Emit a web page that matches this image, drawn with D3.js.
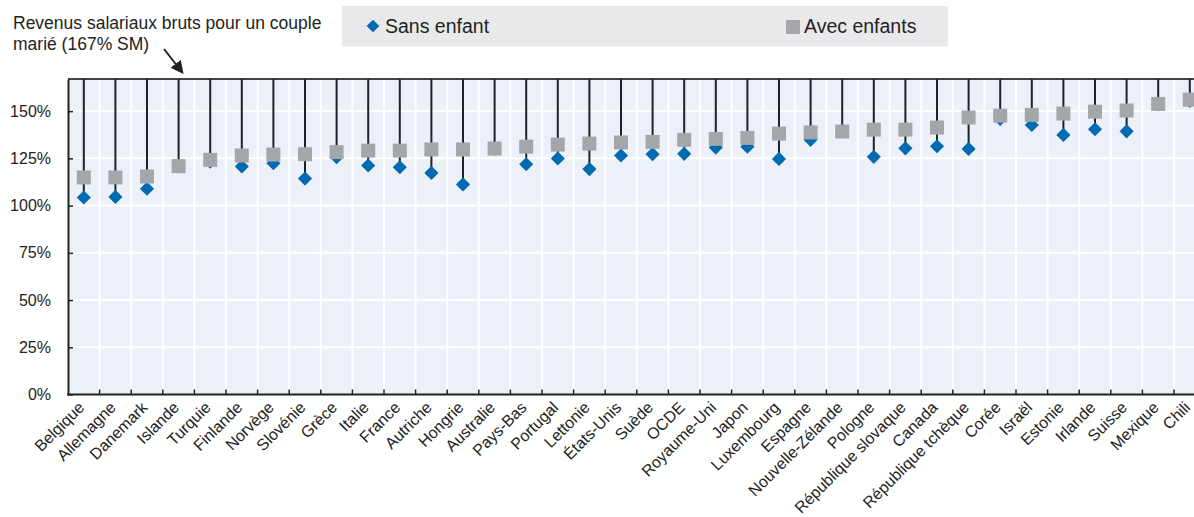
<!DOCTYPE html>
<html>
<head>
<meta charset="utf-8">
<script src="https://cdn.jsdelivr.net/npm/d3@7"></script>
<style>
  body { margin: 0; background: #fff; }
  svg { display: block; font-family: "Liberation Sans", Arial, sans-serif; }
</style>
</head>
<body>
<script>
'use strict';

// data (% of gross earnings)
const countries = ["Belgique", "Allemagne", "Danemark", "Islande", "Turquie", "Finlande", "Norvège",
  "Slovénie", "Grèce", "Italie", "France", "Autriche", "Hongrie", "Australie", "Pays-Bas", "Portugal",
  "Lettonie", "États-Unis", "Suède", "OCDE", "Royaume-Uni", "Japon", "Luxembourg", "Espagne",
  "Nouvelle-Zélande", "Pologne", "République slovaque", "Canada", "République tchèque", "Corée",
  "Israël", "Estonie", "Irlande", "Suisse", "Mexique", "Chili"];
const sansEnfant = [104.3, 104.6, 108.9, 120.7, 123.3, 120.7, 122.4, 114.3, 125.6, 121.2, 120.3, 117.3,
  111.2, 130.0, 121.9, 124.9, 119.3, 126.5, 127.2, 127.4, 130.7, 131.2, 124.7, 134.8, 139.9, 125.8,
  130.3, 131.4, 130.0, 145.8, 142.7, 137.4, 140.4, 139.3, 153.5, 155.4];
const avecEnfants = [114.9, 114.9, 115.4, 120.9, 124.2, 126.5, 127.0, 127.2, 128.3, 129.1, 129.1, 129.7,
  129.7, 130.2, 131.2, 132.3, 132.8, 133.4, 133.7, 134.8, 135.3, 135.8, 138.1, 138.7, 139.2, 140.2,
  140.2, 141.3, 146.6, 147.6, 148.0, 148.7, 149.7, 150.3, 153.8, 156.1];
const grossLevel = 167;              // gross earnings of the couple (167% SM)
const yTicks = [0, 25, 50, 75, 100, 125, 150];
const seriesNames = ["Sans enfant", "Avec enfants"];

(function() {
  const width = 1194, height = 517;
  const blue = "#006BB0", grey = "#A5A6A9";

  const svg = d3.select("body").append("svg")
    .attr("width", width)
    .attr("height", height);

  const plotLeft = 68, plotTop = 79, plotBottom = 394.5;
  const step = 31.6;

  const x = d3.scaleBand()
    .domain(countries)
    .range([plotLeft, plotLeft + step * countries.length])
    .padding(0);

  const y = d3.scaleLinear()
    .domain([0, grossLevel])
    .range([plotBottom, plotTop]);

  const cx = d => x(d) + x.bandwidth() / 2;

  // plot background
  svg.append("rect")
    .attr("x", plotLeft)
    .attr("y", plotTop)
    .attr("width", x.range()[1] - plotLeft)
    .attr("height", plotBottom - plotTop)
    .style("fill", "#ECF0F8");

  // white horizontal gridlines
  svg.append("g").selectAll("line")
    .data(yTicks.filter(d => d > 0))
    .enter().append("line")
    .attr("x1", plotLeft)
    .attr("x2", x.range()[1])
    .attr("y1", d => y(d))
    .attr("y2", d => y(d))
    .style("stroke", "#fff")
    .style("stroke-width", 2);

  // white vertical gridlines between countries
  svg.append("g").selectAll("line")
    .data(countries.slice(1))
    .enter().append("line")
    .attr("x1", d => x(d))
    .attr("x2", d => x(d))
    .attr("y1", plotTop)
    .attr("y2", plotBottom)
    .style("stroke", "#fff")
    .style("stroke-width", 2);

  // top border
  svg.append("line")
    .attr("x1", plotLeft)
    .attr("x2", width)
    .attr("y1", plotTop)
    .attr("y2", plotTop)
    .style("stroke", "#444")
    .style("stroke-width", 2);

  // stems from gross level down to the lowest marker
  svg.append("g").selectAll("line")
    .data(countries)
    .enter().append("line")
    .attr("x1", cx)
    .attr("x2", cx)
    .attr("y1", y(grossLevel))
    .attr("y2", (d, i) => y(Math.min(sansEnfant[i], avecEnfants[i])))
    .style("stroke", "#222")
    .style("stroke-width", 2);

  // diamonds: sans enfant
  const diamond = d3.symbol().type(d3.symbolSquare).size(100);
  svg.append("g").selectAll("path")
    .data(countries)
    .enter().append("path")
    .attr("d", diamond)
    .attr("transform", (d, i) => `translate(${cx(d)},${y(sansEnfant[i])}) rotate(45)`)
    .style("fill", blue);

  // squares: avec enfants
  const square = 14;
  svg.append("g").selectAll("rect")
    .data(countries)
    .enter().append("rect")
    .attr("x", d => cx(d) - square / 2)
    .attr("y", (d, i) => y(avecEnfants[i]) - square / 2)
    .attr("width", square)
    .attr("height", square)
    .style("fill", grey);

  // y axis
  const yAxis = d3.axisLeft(y)
    .tickValues(yTicks)
    .tickFormat(d => d + "%")
    .tickSizeInner(-5)
    .tickSizeOuter(0)
    .tickPadding(17);
  const gy = svg.append("g")
    .attr("transform", `translate(${plotLeft},0)`)
    .call(yAxis);
  gy.select(".domain").style("stroke", "#222").style("stroke-width", 2);
  gy.selectAll(".tick line").style("stroke", "#222").style("stroke-width", 1.5);
  gy.selectAll(".tick text")
    .style("font-size", "16px")
    .style("fill", "#222")
    .style("font-family", "'Liberation Sans', Arial, sans-serif");

  // x axis (labels at band centers)
  const xAxis = d3.axisBottom(x)
    .tickSize(0)
    .tickPadding(0);
  const gx = svg.append("g")
    .attr("transform", `translate(0,${plotBottom})`)
    .call(xAxis);
  gx.select(".domain").remove();
  gx.selectAll(".tick text")
    .attr("y", 0)
    .attr("dy", 0)
    .attr("text-anchor", "end")
    .attr("transform", "translate(1.5,14) rotate(-45)")
    .style("font-size", "16px")
    .style("fill", "#222")
    .style("font-family", "'Liberation Sans', Arial, sans-serif");

  // bottom axis line and inward ticks at boundaries
  svg.append("line")
    .attr("x1", plotLeft - 1)
    .attr("x2", width)
    .attr("y1", plotBottom)
    .attr("y2", plotBottom)
    .style("stroke", "#222")
    .style("stroke-width", 2);
  svg.append("g").selectAll("line")
    .data(countries.slice(1))
    .enter().append("line")
    .attr("x1", d => x(d))
    .attr("x2", d => x(d))
    .attr("y1", plotBottom)
    .attr("y2", plotBottom - 5)
    .style("stroke", "#222")
    .style("stroke-width", 1.5);

  // annotation
  const note = svg.append("text")
    .style("font-size", "17.5px")
    .style("fill", "#222");
  note.append("tspan").attr("x", 13).attr("y", 28.5).text("Revenus salariaux bruts pour un couple");
  note.append("tspan").attr("x", 13).attr("y", 50).text("marié (167% SM)");

  svg.append("defs").append("marker")
    .attr("id", "arrow")
    .attr("viewBox", "0 0 10 10")
    .attr("refX", 8)
    .attr("refY", 5)
    .attr("markerWidth", 6.5)
    .attr("markerHeight", 6.5)
    .attr("markerUnits", "strokeWidth")
    .attr("orient", "auto")
    .append("path")
    .attr("d", "M0,0 L10,5 L0,10 Z")
    .style("fill", "#222");

  svg.append("line")
    .attr("x1", 164)
    .attr("y1", 49)
    .attr("x2", 182)
    .attr("y2", 72)
    .style("stroke", "#222")
    .style("stroke-width", 2)
    .attr("marker-end", "url(#arrow)");

  // legend
  svg.append("rect")
    .attr("x", 342)
    .attr("y", 6)
    .attr("width", 606)
    .attr("height", 40.5)
    .style("fill", "#E9E9EB");

  svg.append("path")
    .attr("d", d3.symbol().type(d3.symbolSquare).size(81)())
    .attr("transform", "translate(373,26) rotate(45)")
    .style("fill", blue);
  svg.append("text")
    .attr("x", 385)
    .attr("y", 33)
    .style("font-size", "19.5px")
    .style("fill", "#222")
    .text(seriesNames[0]);

  svg.append("rect")
    .attr("x", 786)
    .attr("y", 20)
    .attr("width", 14)
    .attr("height", 14)
    .style("fill", grey);
  svg.append("text")
    .attr("x", 804)
    .attr("y", 33)
    .style("font-size", "19.5px")
    .style("fill", "#222")
    .text(seriesNames[1]);
})();
</script>
</body>
</html>
